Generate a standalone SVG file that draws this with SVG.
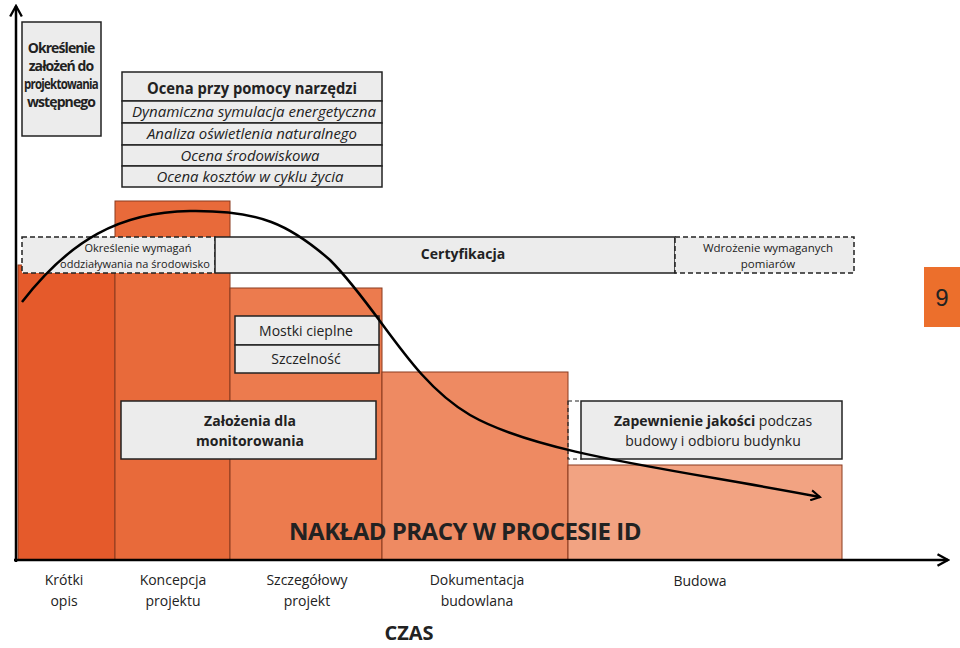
<svg xmlns="http://www.w3.org/2000/svg" width="960" height="648" viewBox="0 0 960 648">
<defs>
<style>
.box{fill:#ececec;stroke:#222;stroke-width:1.5}
.dash{fill:#ececec;stroke:#222;stroke-width:1.5;stroke-dasharray:5,3}
.t{font-family:"Open Sans","Liberation Sans",sans-serif;fill:#222;text-anchor:middle}
.bar{stroke:#8a3a1e;stroke-width:1}
</style>
<marker id="ah" viewBox="0 0 12 12" refX="10" refY="6" markerWidth="12" markerHeight="12" markerUnits="userSpaceOnUse" orient="auto"><path d="M1,1 L10,6 L1,11" fill="none" stroke="#000" stroke-width="2"/></marker>
<marker id="ax" viewBox="0 0 12 12" refX="10" refY="6" markerWidth="14" markerHeight="14" markerUnits="userSpaceOnUse" orient="auto"><path d="M1,1 L10,6 L1,11" fill="none" stroke="#000" stroke-width="2"/></marker>
</defs>
<rect width="960" height="648" fill="#fff"/>
<g id="bars">
<rect class="bar" x="18" y="265" width="97" height="295" fill="#e55a2b"/>
<rect class="bar" x="115" y="201" width="115" height="359" fill="#e86a3a"/>
<rect class="bar" x="230" y="288" width="152" height="272" fill="#ec7b4e"/>
<rect class="bar" x="382" y="372" width="186" height="188" fill="#ee8a62"/>
<rect class="bar" x="568" y="465" width="274" height="95" fill="#f2a382"/>
</g>
<g id="n1"><rect class="box" x="22" y="22" width="79" height="114"/>
<text class="t" font-size="14" font-weight="bold" letter-spacing="-0.9"><tspan x="61" y="53">Określenie</tspan><tspan x="61" y="71">założeń do</tspan><tspan x="61" y="89" textLength="74" lengthAdjust="spacingAndGlyphs">projektowania</tspan><tspan x="61" y="107">wstępnego</tspan></text></g>
<g id="n2">
<rect class="box" x="122" y="72" width="260" height="29"/>
<text class="t" x="252" y="94" font-size="16" font-weight="bold" textLength="210" lengthAdjust="spacingAndGlyphs">Ocena przy pomocy narzędzi</text>
<rect class="box" x="122" y="101" width="260" height="22"/>
<text class="t" x="254" y="117" font-size="15" font-style="italic" textLength="244" lengthAdjust="spacingAndGlyphs">Dynamiczna symulacja energetyczna</text>
<rect class="box" x="122" y="123" width="260" height="22"/>
<text class="t" x="252" y="139" font-size="15" font-style="italic" textLength="210" lengthAdjust="spacingAndGlyphs">Analiza oświetlenia naturalnego</text>
<rect class="box" x="122" y="145" width="260" height="21"/>
<text class="t" x="250" y="161" font-size="15" font-style="italic" textLength="139" lengthAdjust="spacingAndGlyphs">Ocena środowiskowa</text>
<rect class="box" x="122" y="166" width="260" height="21"/>
<text class="t" x="250" y="182" font-size="15" font-style="italic" textLength="187" lengthAdjust="spacingAndGlyphs">Ocena kosztów w cyklu życia</text>
</g>
<g id="n3"><rect class="dash" x="22" y="237" width="193" height="36"/>
<text class="t" font-size="11"><tspan x="138" y="252">Określenie wymagań</tspan><tspan x="135" y="268">oddziaływania na środowisko</tspan></text></g>
<g id="n4"><rect class="box" x="215" y="237" width="460" height="36"/>
<text class="t" x="463" y="259" font-size="14" font-weight="bold">Certyfikacja</text></g>
<g id="n5"><rect class="dash" x="675" y="237" width="179" height="36"/>
<text class="t" font-size="11.5"><tspan x="768" y="252">Wdrożenie wymaganych</tspan><tspan x="768" y="268">pomiarów</tspan></text></g>
<g id="n6"><rect class="box" x="235" y="316" width="144" height="29"/>
<text class="t" x="306" y="336" font-size="14">Mostki cieplne</text>
<rect class="box" x="235" y="345" width="144" height="28"/>
<text class="t" x="306" y="364" font-size="14">Szczelność</text></g>
<g id="n7"><rect class="box" x="121" y="401" width="255" height="58"/>
<text class="t" font-size="14" font-weight="bold"><tspan x="250" y="426">Założenia dla</tspan><tspan x="250" y="446">monitorowania</tspan></text></g>
<g id="n8"><rect x="568" y="401" width="14" height="58" fill="none" stroke="#222" stroke-width="1.2" stroke-dasharray="4,3"/>
<rect class="box" x="581" y="401" width="261" height="58"/>
<text class="t" font-size="14"><tspan x="713" y="426"><tspan font-weight="bold">Zapewnienie jakości</tspan> podczas</tspan><tspan x="713" y="446">budowy i odbioru budynku</tspan></text></g>
<g id="connectors">
<line x1="16" y1="562" x2="16" y2="6" stroke="#000" stroke-width="2.5" marker-end="url(#ax)"/>
<line x1="14" y1="560" x2="948" y2="560" stroke="#000" stroke-width="2.5" marker-end="url(#ax)"/>
<path d="M22,302 C70,240 120,212 190,211 C260,210 290,225 330,260 C380,310 410,380 470,415 C540,455 680,470 820,497" fill="none" stroke="#000" stroke-width="2.5" marker-end="url(#ah)"/>
</g>
<g id="page"><rect x="924" y="267" width="36" height="60" fill="#ec6f2c"/>
<text x="942" y="306" font-family="Liberation Sans,sans-serif" font-size="24" text-anchor="middle" fill="#222">9</text></g>
<text class="t" x="465" y="540" font-size="24" font-weight="bold" letter-spacing="-0.5">NAKŁAD PRACY W PROCESIE ID</text>
<g class="t" font-size="14">
<text><tspan x="64" y="585">Krótki</tspan><tspan x="64" y="606">opis</tspan></text>
<text><tspan x="173" y="585">Koncepcja</tspan><tspan x="173" y="606">projektu</tspan></text>
<text><tspan x="307" y="585">Szczegółowy</tspan><tspan x="307" y="606">projekt</tspan></text>
<text><tspan x="477" y="585">Dokumentacja</tspan><tspan x="477" y="606">budowlana</tspan></text>
<text x="700" y="586">Budowa</text>
</g>
<text class="t" x="409" y="640" font-size="20" font-weight="bold">CZAS</text>
</svg>
